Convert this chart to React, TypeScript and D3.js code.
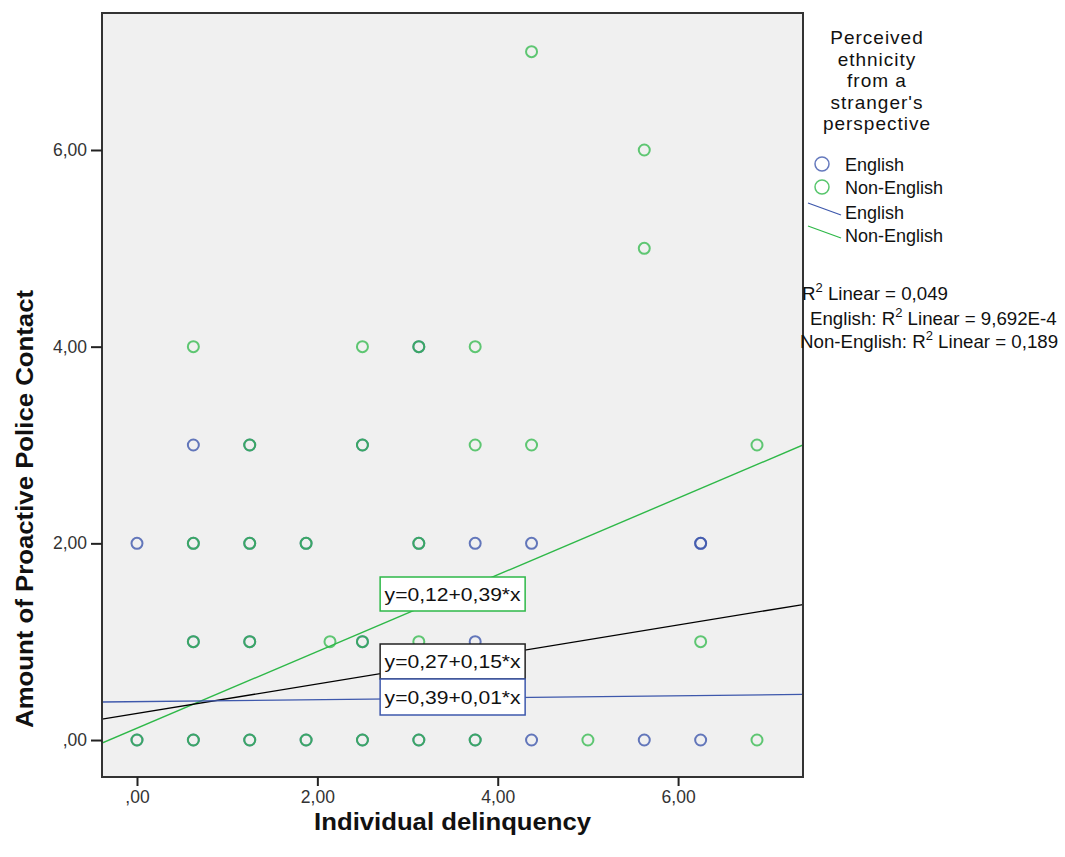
import React, { useRef, useEffect } from 'react';
import * as d3 from 'd3';

// Individual delinquency (x) vs proactive police contact (y), per group
const englishX = [0.625, 0, 3.75, 4.375, 6.25, 6.25, 3.75, 4.375, 5.625, 6.25, 0, 0.625, 1.25, 1.875, 2.5, 3.125, 3.75, 1.25, 2.5, 3.125, 0.625, 1.25, 1.875, 3.125, 0.625, 1.25, 2.5];
const englishY = [3, 2, 2, 2, 2, 2, 1, 0, 0, 0, 0, 0, 0, 0, 0, 0, 0, 3, 3, 4, 2, 2, 2, 2, 1, 1, 1];

const nonEnglishX = [4.375, 5.625, 5.625, 0.625, 2.5, 3.125, 3.75, 1.25, 2.5, 3.75, 4.375, 6.875, 0.625, 1.25, 1.875, 3.125, 0.625, 1.25, 2.14, 2.5, 3.125, 6.25, 0, 0.625, 1.25, 1.875, 2.5, 3.125, 3.75, 5, 6.875];
const nonEnglishY = [7, 6, 5, 4, 4, 4, 4, 3, 3, 3, 3, 3, 2, 2, 2, 2, 1, 1, 1, 1, 1, 1, 0, 0, 0, 0, 0, 0, 0, 0, 0];

// fit lines: intercept, slope
const fitNames = ['Non-English', 'Total', 'English'];
const fitIntercepts = [0.12, 0.27, 0.39];
const fitSlopes = [0.39, 0.15, 0.01];
const fitLabels = ['y=0,12+0,39*x', 'y=0,27+0,15*x', 'y=0,39+0,01*x'];

const xTicks = [0, 2, 4, 6];
const xTickLabels = [',00', '2,00', '4,00', '6,00'];
const yTicks = [0, 2, 4, 6];
const yTickLabels = [',00', '2,00', '4,00', '6,00'];

const legendTitle = ['Perceived', 'ethnicity', 'from a', "stranger's", 'perspective'];
const groupNames = ['English', 'Non-English'];
const r2Rows = [
    { prefix: '', value: '0,049' },
    { prefix: 'English: ', value: '9,692E-4' },
    { prefix: 'Non-English: ', value: '0,189' },
];

const BLUE = '#3e58ac';
const GREEN = '#2eb848';
const FONT = '"Liberation Sans", Arial, sans-serif';

const App = () => {
    const svgRef = useRef<SVGSVGElement>(null);

    const width = 1065;
    const height = 857;
    const plot = { left: 102, right: 803, top: 13, bottom: 777 };

    useEffect(() => {
        const svg = d3.select(svgRef.current);
        svg.selectAll('*').remove();
        svg.attr('width', width).attr('height', height);

        svg.append('rect').attr('width', width).attr('height', height).attr('fill', '#fff');

        const x = d3.scaleLinear().domain([-0.388, 7.385]).range([plot.left, plot.right]);
        const y = d3.scaleLinear().domain([-0.376, 7.393]).range([plot.bottom, plot.top]);

        // plot background
        svg.append('rect')
            .attr('x', plot.left)
            .attr('y', plot.top)
            .attr('width', plot.right - plot.left)
            .attr('height', plot.bottom - plot.top)
            .attr('fill', '#f0f0f0');

        const clip = svg.append('clipPath').attr('id', 'plotclip');
        clip.append('rect')
            .attr('x', plot.left)
            .attr('y', plot.top)
            .attr('width', plot.right - plot.left)
            .attr('height', plot.bottom - plot.top);

        const g = svg.append('g').attr('clip-path', 'url(#plotclip)');

        // points: English first, Non-English on top
        const eng = englishX.map((d, i) => ({ x: d, y: englishY[i] }));
        const non = nonEnglishX.map((d, i) => ({ x: d, y: nonEnglishY[i] }));

        g.selectAll('.eng')
            .data(eng)
            .enter()
            .append('circle')
            .attr('cx', (d) => x(d.x))
            .attr('cy', (d) => y(d.y))
            .attr('r', 5.5)
            .attr('fill', 'none')
            .attr('stroke', BLUE)
            .attr('stroke-opacity', 0.8)
            .attr('stroke-width', 2);

        g.selectAll('.non')
            .data(non)
            .enter()
            .append('circle')
            .attr('cx', (d) => x(d.x))
            .attr('cy', (d) => y(d.y))
            .attr('r', 5.5)
            .attr('fill', 'none')
            .attr('stroke', GREEN)
            .attr('stroke-opacity', 0.75)
            .attr('stroke-width', 2);

        // fit lines
        const lineColors = [GREEN, '#000', BLUE];
        const [x0, x1] = x.domain();
        fitNames.forEach((n, i) => {
            g.append('line')
                .attr('x1', x(x0))
                .attr('y1', y(fitIntercepts[i] + fitSlopes[i] * x0))
                .attr('x2', x(x1))
                .attr('y2', y(fitIntercepts[i] + fitSlopes[i] * x1))
                .attr('stroke', lineColors[i])
                .attr('stroke-width', i === 1 ? 1.3 : 1.4);
        });

        // equation labels
        const boxW = 145;
        const boxTops = [577, 644, 679];
        const boxHeights = [34, 35, 36];
        const boxCx = x(3.5);
        fitLabels.forEach((lab, i) => {
            const bg = svg.append('g');
            bg.append('rect')
                .attr('x', boxCx - boxW / 2)
                .attr('y', boxTops[i])
                .attr('width', boxW)
                .attr('height', boxHeights[i])
                .attr('fill', '#fff')
                .attr('stroke', lineColors[i] === '#000' ? '#222' : lineColors[i])
                .attr('stroke-width', 1.5);
            bg.append('text')
                .attr('x', boxCx)
                .attr('y', boxTops[i] + boxHeights[i] / 2 + 6.5)
                .attr('text-anchor', 'middle')
                .attr('font-family', FONT)
                .attr('font-size', 18.5)
                .attr('textLength', 136)
                .attr('lengthAdjust', 'spacingAndGlyphs')
                .attr('fill', '#111')
                .text(lab);
        });

        // plot frame
        svg.append('rect')
            .attr('x', plot.left)
            .attr('y', plot.top)
            .attr('width', plot.right - plot.left)
            .attr('height', plot.bottom - plot.top)
            .attr('fill', 'none')
            .attr('stroke', '#333')
            .attr('stroke-width', 2);

        // axes
        const xAxis = svg.append('g')
            .attr('transform', `translate(0, ${plot.bottom})`)
            .call(d3.axisBottom(x).tickValues(xTicks).tickSize(9).tickPadding(5)
                .tickFormat((d, i) => xTickLabels[i]));
        const yAxis = svg.append('g')
            .attr('transform', `translate(${plot.left}, 0)`)
            .call(d3.axisLeft(y).tickValues(yTicks).tickSize(11).tickPadding(4)
                .tickFormat((d, i) => yTickLabels[i]));
        [xAxis, yAxis].forEach((a) => {
            a.select('.domain').remove();
            a.selectAll('line').attr('stroke', '#222').attr('stroke-width', 2);
            a.selectAll('text')
                .attr('font-family', FONT)
                .attr('font-size', 17.5)
                .attr('fill', '#333');
        });

        // axis titles
        svg.append('text')
            .attr('x', x(3.5))
            .attr('y', 830)
            .attr('text-anchor', 'middle')
            .attr('font-family', FONT)
            .attr('font-weight', 'bold')
            .attr('font-size', 23)
            .attr('textLength', 277)
            .attr('lengthAdjust', 'spacingAndGlyphs')
            .attr('fill', '#111')
            .text('Individual delinquency');

        svg.append('text')
            .attr('transform', `translate(33, ${y(2.35)}) rotate(-90)`)
            .attr('text-anchor', 'middle')
            .attr('font-family', FONT)
            .attr('font-weight', 'bold')
            .attr('font-size', 23)
            .attr('textLength', 438)
            .attr('lengthAdjust', 'spacingAndGlyphs')
            .attr('fill', '#111')
            .text('Amount of Proactive Police Contact');

        // legend
        const lg = svg.append('g').attr('font-family', FONT).attr('fill', '#111');
        legendTitle.forEach((t, i) => {
            lg.append('text')
                .attr('x', 877)
                .attr('y', 44 + i * 21.5)
                .attr('text-anchor', 'middle')
                .attr('font-size', 19)
                .attr('letter-spacing', 1)
                .text(t);
        });
        const groupColors = [BLUE, GREEN];
        groupNames.forEach((n, i) => {
            const cy = 164 + i * 23;
            lg.append('circle')
                .attr('cx', 822)
                .attr('cy', cy)
                .attr('r', 7)
                .attr('fill', 'none')
                .attr('stroke', groupColors[i])
                .attr('stroke-opacity', 0.8)
                .attr('stroke-width', 1.5);
            lg.append('text')
                .attr('x', 845)
                .attr('y', cy + 6.5)
                .attr('font-size', 18)
                .text(n);
        });
        groupNames.forEach((n, i) => {
            const cy = 212 + i * 23;
            lg.append('line')
                .attr('x1', 808)
                .attr('y1', cy - 9)
                .attr('x2', 841)
                .attr('y2', cy + 3)
                .attr('stroke', groupColors[i])
                .attr('stroke-width', 1.3);
            lg.append('text')
                .attr('x', 845)
                .attr('y', cy + 6.5)
                .attr('font-size', 18)
                .text(n);
        });

        // R-squared notes
        const r2x = [802, 810, 800];
        const r2y = [300, 325, 348];
        r2Rows.forEach((r, i) => {
            const t = lg.append('text')
                .attr('x', r2x[i])
                .attr('y', r2y[i])
                .attr('font-size', 18.7);
            t.append('tspan').text(r.prefix + 'R');
            t.append('tspan').attr('font-size', 13).attr('dy', -8).text('2');
            t.append('tspan').attr('dy', 8).text(' Linear = ' + r.value);
        });
    }, []);

    return (
        <div style={{ position: 'absolute', left: 0, top: 0 }}>
            <svg ref={svgRef} style={{ display: 'block' }}></svg>
        </div>
    );
};

export default App;
